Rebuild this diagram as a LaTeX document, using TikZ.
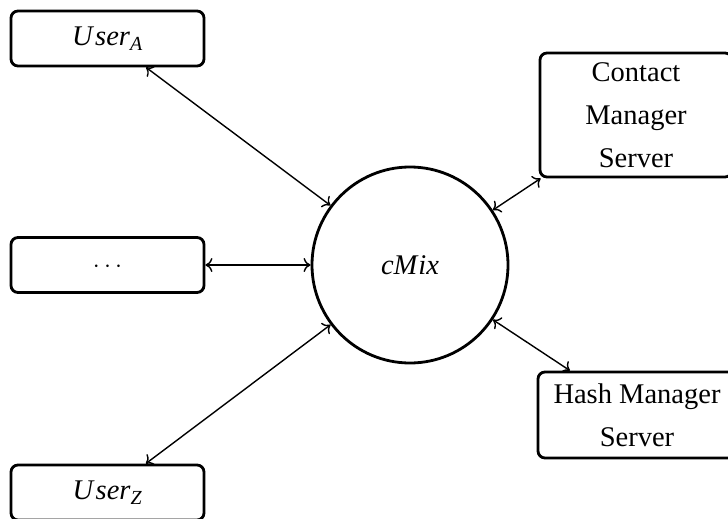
\documentclass[tikz,border=0pt]{standalone}
\usepackage{fontspec}
\setmainfont{Liberation Serif}
\usetikzlibrary{arrows.meta}
\begin{document}
\begin{tikzpicture}[x=1pt,y=-1pt,
  every node/.style={font=\fontsize{28.5}{43}\selectfont},
  party/.style={draw,line width=2.8pt,rounded corners=7pt,minimum width=193pt,minimum height=55pt,inner sep=0pt},
  server/.style={draw,line width=2.8pt,rounded corners=7pt,align=center,inner sep=0pt},
  hub/.style={draw,circle,line width=2.8pt,minimum size=196pt,inner sep=0pt},
  link/.style={line width=1.4pt,{To[length=7pt,width=14pt]}-{To[length=7pt,width=14pt]}}
]
\useasboundingbox (0,0) rectangle (728,519);

\node[party] (ua) at (107.5,38.5) {\textit{U\kern2.5pt ser}\textsubscript{\textit{A}}};
\node[party] (ud) at (107.5,265) {\smash{\raisebox{-7pt}{$\cdots$}}};
\node[party] (uz) at (107.5,492.5) {\textit{U\kern2.5pt ser}\textsubscript{\textit{Z}}};

\node[hub] (cmix) at (410,265) {\textit{cM\kern1pt ix}};

\node[server,minimum width=192pt,minimum height=124pt] (cms) at (636,115) {Contact\\Manager\\Server};
\node[server,minimum width=198pt,minimum height=86pt] (hms) at (637,415) {Hash Manager\\Server};

\draw[link] (ua) -- (cmix);
\draw[link] (ud) -- (cmix);
\draw[link] (uz) -- (cmix);
\draw[link] (cmix) -- (cms);
\draw[link] (cmix) -- (hms);
\end{tikzpicture}
\end{document}
